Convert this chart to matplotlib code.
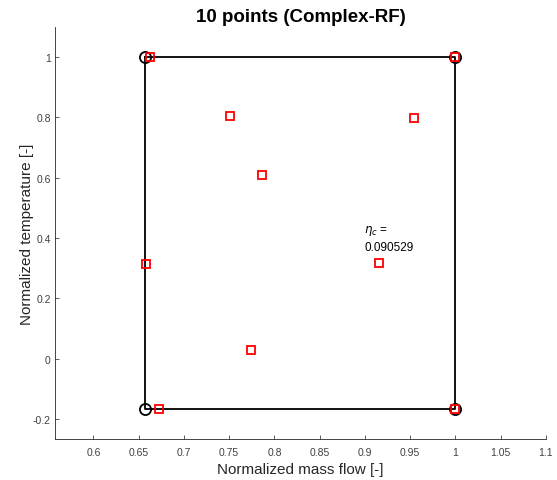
import matplotlib

matplotlib.use('Agg')

import matplotlib.pyplot as plt

plt.rcParams['font.family'] = ['Liberation Sans', 'DejaVu Sans']

# bounding box corners (normalized mass flow, normalized temperature)
box_x = [0.6575, 1.0, 1.0, 0.6575, 0.6575]
box_y = [1.0, 1.0, -0.166, -0.166, 1.0]

# sample points
pts_x = [0.663, 0.751, 0.954, 0.786, 0.658, 0.916, 0.774, 0.673, 1.0, 1.0]
pts_y = [1.0, 0.805, 0.797, 0.610, 0.315, 0.318, 0.030, -0.166, 1.0, -0.166]

xticks = [0.6, 0.65, 0.7, 0.75, 0.8, 0.85, 0.9, 0.95, 1, 1.05, 1.1]
yticks = [-0.2, 0, 0.2, 0.4, 0.6, 0.8, 1]

fig = plt.figure(figsize=(5.57, 4.81), dpi=100)
ax = fig.add_axes([0.0987, 0.0852, 0.8813, 0.8568])

ax.plot(box_x, box_y, color='black', linewidth=1.3, zorder=2)
ax.plot(box_x[:4], box_y[:4], linestyle='none', marker='o', markersize=8,
        markerfacecolor='none', markeredgecolor='black', markeredgewidth=1.3, zorder=3)
ax.plot(pts_x, pts_y, linestyle='none', marker='s', markersize=6,
        markerfacecolor='none', markeredgecolor='red', markeredgewidth=1.3, zorder=4)

ax.text(0.8995, 0.40, '$\\eta_c$ =\n0.090529', fontsize=8.5, va='center', ha='left',
        linespacing=1.5)

ax.set_xlim(0.5575, 1.1)
ax.set_ylim(-0.266, 1.1)
ax.set_xticks(xticks)
ax.set_xticklabels([f'{t:g}' for t in xticks])
ax.set_yticks(yticks)
ax.set_yticklabels([f'{t:g}' for t in yticks])

for side in ['top', 'right']:
    ax.spines[side].set_visible(False)
for side in ['left', 'bottom']:
    ax.spines[side].set_color('#262626')
    ax.spines[side].set_linewidth(0.6)
ax.tick_params(direction='in', length=3, width=0.6, colors='#404040', labelsize=7.5)
ax.tick_params(axis='x', pad=6)
ax.tick_params(axis='y', pad=3)

ax.set_title('10 points (Complex-RF)', fontsize=13.5, fontweight='bold', pad=4)
ax.set_xlabel('Normalized mass flow [-]', fontsize=11, color='#262626', labelpad=3)
ax.set_ylabel('Normalized temperature [-]', fontsize=11, color='#262626', labelpad=-1)

plt.savefig('out.png', dpi=100)
plt.close()
